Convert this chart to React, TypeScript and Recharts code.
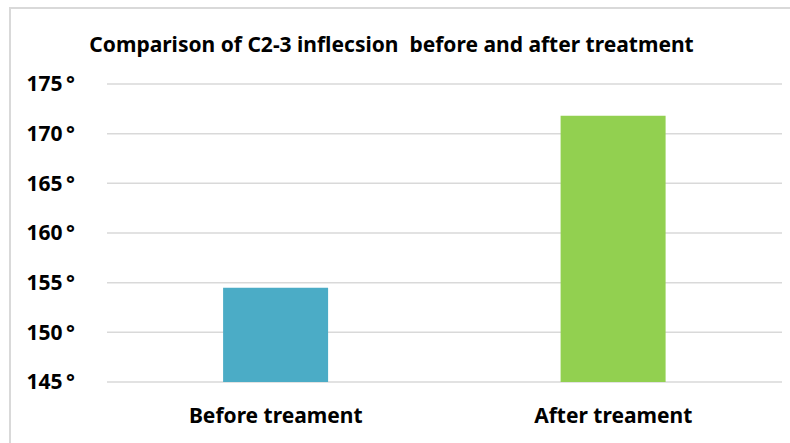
import React from 'react';
import { BarChart, Bar, XAxis, YAxis, CartesianGrid, Cell } from 'recharts';

// Chart data
const categories = ['Before treament', 'After treament'];
const angles = [154.5, 171.8];
const barColors = ['#4BACC6', '#92D050'];
const yTicks = [145, 150, 155, 160, 165, 170, 175];

const TITLE = 'Comparison of C2-3 inflecsion  before and after treatment';
const FONT = '"Noto Sans", "Open Sans", sans-serif';

const data = categories.map((name, i) => ({ name, value: angles[i] }));

export default function App() {
  return (
    <div
      style={{
        position: 'fixed',
        left: 0,
        top: 0,
        width: 790,
        height: 443,
        overflow: 'hidden',
        background: '#fff',
        fontFamily: FONT,
      }}
    >
      {/* outer frame, right and bottom edges are off the picture */}
      <div
        style={{
          position: 'absolute',
          left: 9,
          top: 7,
          width: 800,
          height: 460,
          border: '2px solid #d9d9d9',
        }}
      />
      <div
        style={{
          position: 'absolute',
          left: 0,
          top: 30,
          width: 783,
          textAlign: 'center',
          fontSize: 21,
          fontWeight: 700,
          color: '#000',
          whiteSpace: 'pre',
        }}
      >
        {TITLE}
      </div>
      <BarChart
        width={790}
        height={443}
        data={data}
        margin={{ top: 84, right: 8, bottom: 0, left: 27 }}
        barCategoryGap="34.4%"
        style={{ position: 'absolute', left: 0, top: 0 }}
      >
        <CartesianGrid vertical={false} stroke="#d9d9d9" strokeWidth={1.5} />
        <XAxis
          dataKey="name"
          axisLine={false}
          tickLine={false}
          tickSize={0}
          tickMargin={26}
          height={61}
          interval={0}
          tick={{ fill: '#000', fontSize: 21, fontWeight: 700, fontFamily: FONT }}
        />
        <YAxis
          domain={[145, 175]}
          ticks={yTicks}
          width={80}
          axisLine={false}
          tickLine={false}
          tickSize={0}
          tickMargin={32}
          tickFormatter={(v: number) => `${v}\u2009°`}
          tick={{ fill: '#000', fontSize: 21, fontWeight: 700, fontFamily: FONT }}
        />
        <Bar dataKey="value" isAnimationActive={false}>
          {data.map((d, i) => (
            <Cell key={d.name} fill={barColors[i]} />
          ))}
        </Bar>
      </BarChart>
    </div>
  );
}
